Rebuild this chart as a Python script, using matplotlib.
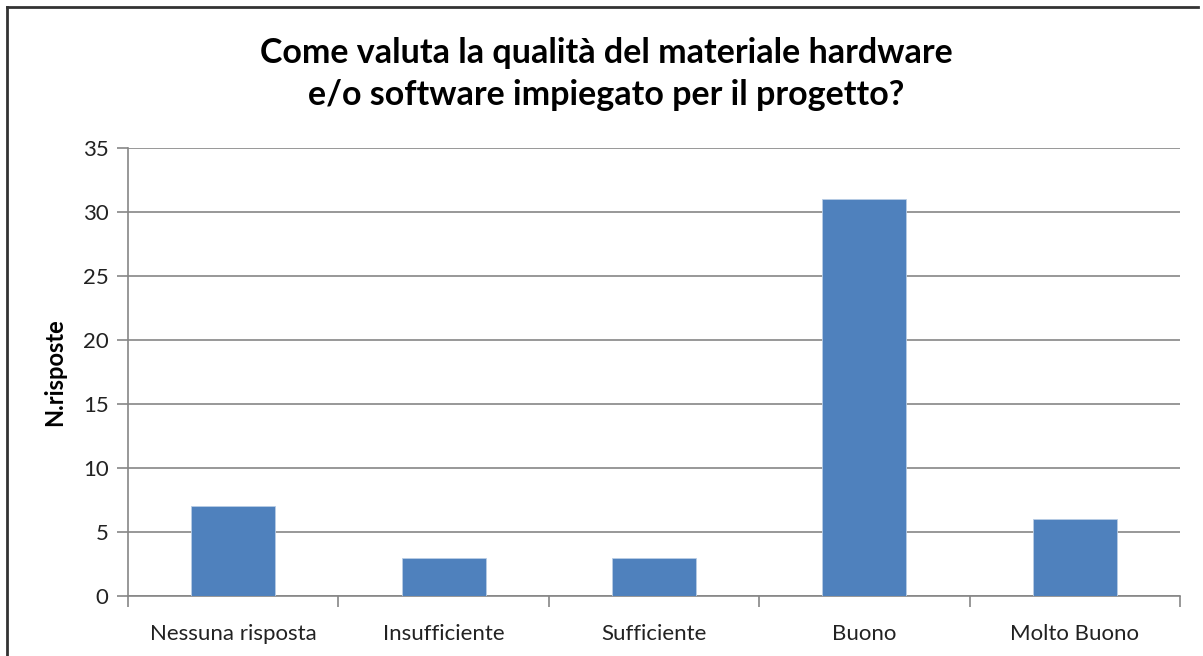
import matplotlib
matplotlib.use('Agg')
import matplotlib.pyplot as plt
from matplotlib.lines import Line2D
import numpy as np

categories = ['Nessuna risposta', 'Insufficiente', 'Sufficiente', 'Buono', 'Molto Buono']
risposte = [7, 3, 3, 31, 6]
yTicks = [0, 5, 10, 15, 20, 25, 30, 35]
titleText = 'Come valuta la qualità del materiale hardware\ne/o software impiegato per il progetto?'

plt.rcParams['font.family'] = ['Lato', 'DejaVu Sans']

W, H = 1203, 656
fig = plt.figure(figsize=(W / 100, H / 100), dpi=100)
ax = fig.add_axes([128 / W, 1 - 596 / H, (1180 - 128) / W, (596 - 148) / H])

x = np.arange(len(categories))
ax.bar(x, risposte, width=0.4, color='#4F81BD', edgecolor='#B9CDE5', linewidth=0.6, zorder=3)

ax.set_xlim(-0.5, len(categories) - 0.5)
ax.set_ylim(0, 35)
ax.set_yticks(yTicks)
ax.set_yticklabels([str(t) for t in yTicks], fontsize=16, color='#222222')
ax.set_xticks(x)
ax.set_xticklabels(categories, fontsize=16, color='#222222')
ax.set_xticks(np.arange(-0.5, len(categories), 1.0), minor=True)
ax.tick_params(axis='x', which='major', length=0, pad=20)
ax.tick_params(axis='x', which='minor', length=8, width=1.2, color='#868686', direction='out')
ax.tick_params(axis='y', length=8, width=1.2, color='#868686', direction='out', pad=6)

ax.grid(axis='y', color='#868686', linewidth=1.2, zorder=0)
ax.set_axisbelow(True)
for side in ['top', 'right']:
    ax.spines[side].set_visible(False)
for side in ['left', 'bottom']:
    ax.spines[side].set_color('#868686')
    ax.spines[side].set_linewidth(1.2)

ax.set_ylabel('N.risposte', fontsize=17, fontweight='bold', labelpad=12)
fig.text(606 / W, 1 - 74 / H, titleText, ha='center', va='center', fontsize=24.5,
         fontweight='bold', linespacing=1.42)

# chart-area border (Excel style), only left and top visible in crop
for xs, ys in [([7, 7], [H, 7]), ([7, 1198], [7, 7])]:
    fig.add_artist(Line2D([v / W for v in xs], [1 - v / H for v in ys],
                          color='#333333', linewidth=2, transform=fig.transFigure))

fig.savefig('out.png', dpi=100, facecolor='white')
